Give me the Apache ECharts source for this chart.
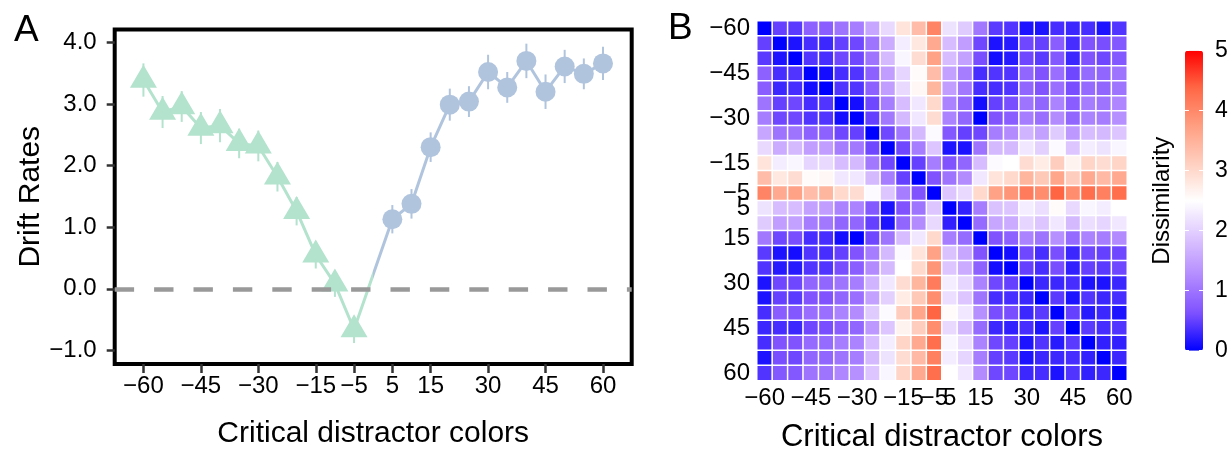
<!DOCTYPE html>
<html>
<head>
<meta charset="utf-8">
<script src="https://cdn.jsdelivr.net/npm/echarts@6/dist/echarts.min.js"></script>
<style>html,body{margin:0;padding:0;background:#fff;}#c{width:1231px;height:449px;}</style>
</head>
<body>
<div id="c"></div>
<script>
// ---------- Panel A data ----------
const colorsNeg = [-60, -55, -50, -45, -40, -35, -30, -25, -20, -15, -10, -5];
const driftNeg  = [3.39, 2.87, 2.96, 2.61, 2.65, 2.36, 2.32, 1.82, 1.26, 0.55, 0.08, -0.66];
const seNeg     = [0.27, 0.26, 0.25, 0.26, 0.27, 0.24, 0.25, 0.24, 0.23, 0.22, 0.21, 0.22];
const colorsPos = [5, 10, 15, 20, 25, 30, 35, 40, 45, 50, 55, 60];
const driftPos  = [1.13, 1.38, 2.30, 2.99, 3.04, 3.52, 3.27, 3.70, 3.20, 3.61, 3.49, 3.66];
const sePos     = [0.23, 0.24, 0.24, 0.26, 0.25, 0.28, 0.25, 0.28, 0.28, 0.27, 0.25, 0.27];
const xTickValues = [-60, -45, -30, -15, -5, 5, 15, 30, 45, 60];
const yTickValues = [-1, 0, 1, 2, 3, 4];

// ---------- Panel B data ----------
const heatCats = [-60, -55, -50, -45, -40, -35, -30, -25, -20, -15, -10, -5,
                  5, 10, 15, 20, 25, 30, 35, 40, 45, 50, 55, 60];
const heatTickLabels = [-60, -45, -30, -15, -5, 5, 15, 30, 45, 60];
const legendTicks = [0, 1, 2, 3, 4, 5];
// upper triangle of the symmetric dissimilarity matrix (row i holds columns i..23)
const dissimUpper = [
  [0, 0.5, 0.45, 0.8, 0.75, 1.0, 1.1, 1.55, 2.1, 2.85, 3.35, 4.05, 2.2, 1.95, 1.05, 0.45, 0.4, 0.15, 0.15, 0.35, 0.3, 0.35, 0.15, 0.4],
  [0, 0.15, 0.35, 0.3, 0.5, 0.55, 1.0, 1.6, 2.3, 2.8, 3.6, 1.8, 1.45, 0.55, 0.15, 0.2, 0.55, 0.5, 0.75, 0.35, 0.65, 0.6, 0.7],
  [0, 0.4, 0.35, 0.55, 0.55, 1.0, 1.75, 2.4, 2.95, 3.7, 1.8, 1.5, 0.6, 0.1, 0.2, 0.55, 0.45, 0.7, 0.3, 0.65, 0.55, 0.7],
  [0, 0.1, 0.35, 0.4, 0.8, 1.45, 2.05, 2.55, 3.35, 1.5, 1.1, 0.35, 0.4, 0.4, 0.85, 0.65, 0.95, 0.55, 0.9, 0.85, 1.0],
  [0, 0.4, 0.4, 0.8, 1.45, 2.1, 2.6, 3.45, 1.45, 1.05, 0.35, 0.35, 0.4, 0.85, 0.65, 0.95, 0.6, 0.9, 0.85, 1.0],
  [0, 0.1, 0.55, 1.1, 1.8, 2.25, 3.0, 1.15, 0.85, 0.1, 0.5, 0.6, 1.0, 0.85, 1.15, 0.75, 1.1, 1.0, 1.2],
  [0, 0.5, 1.05, 1.75, 2.25, 2.95, 1.15, 0.85, 0.0, 0.65, 0.75, 1.1, 0.95, 1.25, 0.85, 1.15, 1.1, 1.3],
  [0, 0.55, 1.05, 1.75, 2.45, 0.7, 0.5, 0.55, 1.1, 1.25, 1.7, 1.5, 1.95, 1.4, 1.8, 1.75, 1.9],
  [0, 0.55, 1.1, 1.9, 0.15, 0.15, 1.0, 1.75, 1.75, 2.25, 2.0, 2.45, 1.9, 2.3, 2.2, 2.4],
  [0, 0.5, 1.1, 0.65, 0.85, 1.8, 2.45, 2.5, 2.95, 2.75, 3.15, 2.65, 3.05, 2.95, 3.05],
  [0, 0.65, 1.0, 1.25, 2.25, 2.85, 3.0, 3.45, 3.2, 3.65, 3.15, 3.6, 3.4, 3.6],
  [0, 1.9, 2.1, 3.0, 3.7, 3.85, 4.15, 3.95, 4.4, 3.95, 4.3, 4.1, 4.3],
  [0, 0.25, 1.1, 1.85, 1.9, 2.3, 2.15, 2.55, 2.1, 2.4, 2.3, 2.5],
  [0, 0.9, 1.55, 1.6, 2.05, 1.9, 2.25, 1.75, 2.15, 2.05, 2.25],
  [0, 0.65, 0.8, 1.15, 1.0, 1.3, 0.9, 1.15, 1.1, 1.25],
  [0, 0.1, 0.55, 0.35, 0.6, 0.3, 0.55, 0.5, 0.55],
  [0, 0.5, 0.35, 0.6, 0.25, 0.5, 0.45, 0.55],
  [0, 0.3, 0.3, 0.35, 0.15, 0.15, 0.3],
  [0, 0.45, 0.15, 0.4, 0.3, 0.35],
  [0, 0.5, 0.2, 0.3, 0.15],
  [0, 0.45, 0.35, 0.4],
  [0, 0.25, 0.25],
  [0, 0.3],
  [0]
];

// ---------- helpers ----------
const FONT = 'Liberation Sans, Arial, Helvetica, sans-serif';
const triColor = '#B3E2CD';
const cirColor = '#B0C4DE';
const gradStops = ['#0000FF', '#7E51FF', '#B38BFF', '#DCC4FF', '#FFFFFF', '#FFCFBF', '#FF9E81', '#FF6846', '#FF0000'];
const fmtNum = v => (v < 0 ? '\u2212' + Math.abs(v) : String(v));
const fmtDec = v => (v < 0 ? '\u2212' + Math.abs(v).toFixed(1) : v.toFixed(1));

const negPts = colorsNeg.map((x, i) => [x, driftNeg[i]]);
const posPts = colorsPos.map((x, i) => [x, driftPos[i]]);
const negErr = colorsNeg.map((x, i) => [x, driftNeg[i], seNeg[i]]);
const posErr = colorsPos.map((x, i) => [x, driftPos[i], sePos[i]]);

const n = heatCats.length;
const cellVal = (i, j) => (i <= j ? dissimUpper[i][j - i] : dissimUpper[j][i - j]);
const heatData = [];
for (let i = 0; i < n; i++) for (let j = 0; j < n; j++) heatData.push([j, i, cellVal(i, j)]);
const heatLabels = heatCats.map(fmtNum);
const heatShow = new Set(heatTickLabels.map(fmtNum));

function errRender(color) {
  return function (params, api) {
    const x = api.value(0), y = api.value(1), s = api.value(2);
    const p1 = api.coord([x, y - s]);
    const p2 = api.coord([x, y + s]);
    return { type: 'line', shape: { x1: p1[0], y1: p1[1], x2: p2[0], y2: p2[1] },
             style: { stroke: color, lineWidth: 2 } };
  };
}

const chart = echarts.init(document.getElementById('c'), null, { renderer: 'canvas' });
const option = {
  animation: false,
  backgroundColor: '#fff',
  textStyle: { fontFamily: FONT, color: '#000' },
  title: [
    { text: 'A', left: 14, top: 12, padding: 0, textStyle: { fontSize: 37, fontWeight: 'normal', color: '#000', fontFamily: FONT } },
    { text: 'B', left: 668, top: 10, padding: 0, textStyle: { fontSize: 37, fontWeight: 'normal', color: '#000', fontFamily: FONT } }
  ],
  grid: [
    { left: 114.7, top: 29.5, width: 517, height: 334.5, show: true, borderColor: '#000', borderWidth: 4,
      backgroundColor: 'transparent', outerBoundsMode: 'none', containLabel: false },
    { left: 757, top: 21, width: 370, height: 359.5, outerBoundsMode: 'none', containLabel: false },
    { left: 1185, top: 50.7, width: 18, height: 300, outerBoundsMode: 'none', containLabel: false }
  ],
  xAxis: [
    { gridIndex: 0, type: 'value', min: -67.5, max: 67.5,
      axisLine: { show: false, onZero: false }, splitLine: { show: false },
      axisTick: { show: true, customValues: xTickValues, length: 9, lineStyle: { color: '#333', width: 2.5 } },
      axisLabel: { customValues: xTickValues, formatter: fmtNum, fontSize: 24, color: '#000', margin: 10 },
      name: 'Critical distractor colors', nameLocation: 'middle', nameGap: 55,
      nameTextStyle: { fontSize: 30, color: '#000' } },
    { gridIndex: 1, type: 'category', data: heatLabels,
      axisLine: { show: false, onZero: false }, axisTick: { show: false }, splitLine: { show: false },
      axisLabel: { interval: (idx, val) => heatShow.has(val), fontSize: 24, color: '#000', margin: 6 },
      name: 'Critical distractor colors', nameLocation: 'middle', nameGap: 41,
      nameTextStyle: { fontSize: 31, color: '#000' } },
    { gridIndex: 2, type: 'value', min: 0, max: 1, show: false }
  ],
  yAxis: [
    { gridIndex: 0, type: 'value', min: -1.22, max: 4.21,
      axisLine: { show: false, onZero: false }, splitLine: { show: false },
      axisTick: { show: true, customValues: yTickValues, length: 8, lineStyle: { color: '#333', width: 2.5 } },
      axisLabel: { customValues: yTickValues, formatter: fmtDec, fontSize: 24, color: '#000', margin: 18 },
      name: 'Drift Rates', nameLocation: 'middle', nameRotate: 90, nameGap: 68,
      nameTextStyle: { fontSize: 30, color: '#000' } },
    { gridIndex: 1, type: 'category', data: heatLabels, inverse: true,
      axisLine: { show: false, onZero: false }, axisTick: { show: false }, splitLine: { show: false },
      axisLabel: { interval: (idx, val) => heatShow.has(val), fontSize: 24, color: '#000', margin: 7 } },
    { gridIndex: 2, type: 'value', min: 0, max: 5, interval: 1, position: 'right', z: 10,
      axisLine: { show: false, onZero: false }, splitLine: { show: false },
      axisTick: { show: true, inside: true, length: 4, lineStyle: { color: '#fff', width: 1 } },
      axisLabel: { formatter: v => String(v), fontSize: 23, color: '#000', margin: 12,
                   customValues: legendTicks } },
    { gridIndex: 2, type: 'value', min: 0, max: 5, interval: 1, position: 'left', z: 10,
      axisLine: { show: false, onZero: false }, splitLine: { show: false },
      axisTick: { show: true, inside: true, length: 4, lineStyle: { color: '#fff', width: 1 } },
      axisLabel: { show: false },
      name: 'Dissimilarity', nameLocation: 'middle', nameRotate: 90, nameGap: 11,
      nameTextStyle: { fontSize: 24, color: '#000' } }
  ],
  visualMap: [
    { type: 'piecewise', show: false, seriesIndex: 0, dimension: 0,
      pieces: [{ gte: -70, lt: 0, color: triColor }, { gte: 0, lte: 70, color: cirColor }],
      outOfRange: { color: cirColor } },
    { type: 'continuous', show: true, seriesIndex: 5, dimension: 2, min: 0, max: 5,
      inRange: { color: gradStops }, orient: 'vertical', left: 1185, top: 50.7,
      itemWidth: 18, itemHeight: 300, padding: 0, calculable: false, hoverLink: false, text: null }
  ],
  series: [
    { type: 'line', xAxisIndex: 0, yAxisIndex: 0, data: negPts.concat(posPts), showSymbol: false,
      lineStyle: { width: 3 }, z: 2, silent: true,
      markLine: { silent: true, symbol: 'none', label: { show: false },
        lineStyle: { color: '#999', width: 4.5, type: [19.4, 20] }, data: [{ yAxis: 0 }] } },
    { type: 'custom', xAxisIndex: 0, yAxisIndex: 0, data: negErr, renderItem: errRender(triColor), encode: { x: 0, y: 1 }, z: 3, silent: true },
    { type: 'custom', xAxisIndex: 0, yAxisIndex: 0, data: posErr, renderItem: errRender(cirColor), encode: { x: 0, y: 1 }, z: 3, silent: true },
    { type: 'scatter', xAxisIndex: 0, yAxisIndex: 0, data: negPts, symbol: 'triangle', symbolSize: [27, 23],
      symbolOffset: [0, -3.85], itemStyle: { color: triColor, opacity: 1 }, z: 4, silent: true },
    { type: 'scatter', xAxisIndex: 0, yAxisIndex: 0, data: posPts, symbol: 'circle', symbolSize: 20,
      itemStyle: { color: cirColor, opacity: 1 }, z: 4, silent: true },
    { type: 'heatmap', xAxisIndex: 1, yAxisIndex: 1, data: heatData,
      itemStyle: { borderColor: '#fff', borderWidth: 1.5 }, emphasis: { disabled: true }, silent: true }
  ]
};
chart.setOption(option);
</script>
</body>
</html>
